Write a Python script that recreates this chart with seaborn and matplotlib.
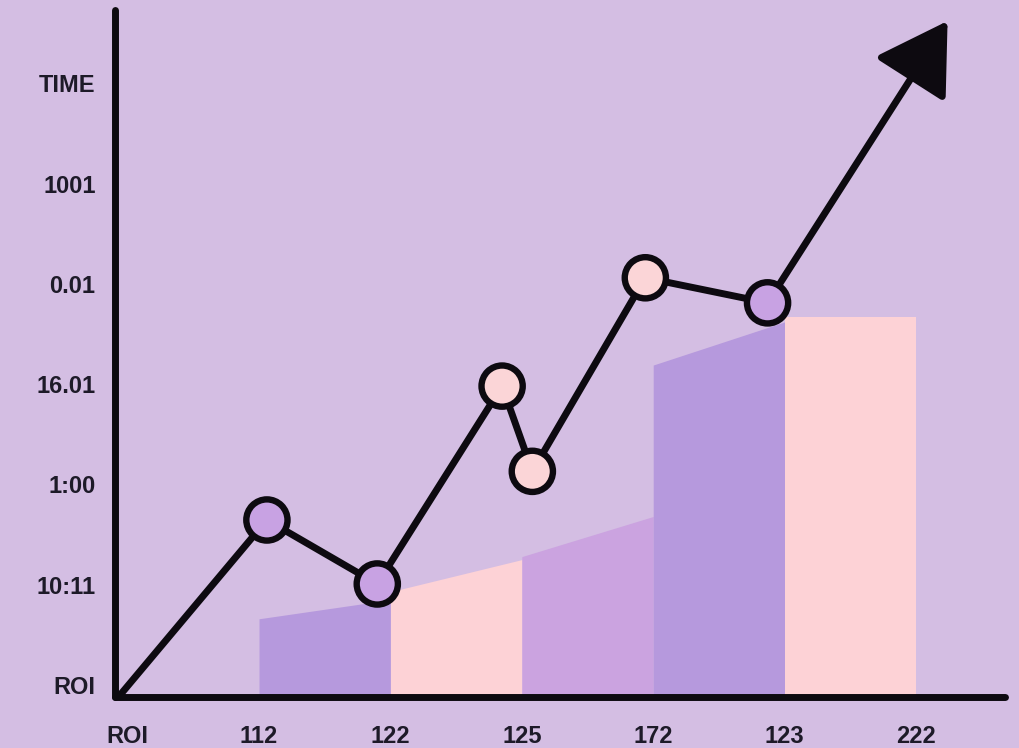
import matplotlib
matplotlib.use("Agg")
import matplotlib.pyplot as plt
import pandas as pd
import seaborn as sns

# --- data -----------------------------------------------------------------
x_labels = ["ROI", "112", "122", "125", "172", "123", "222"]
x_label_pos = [0, 1, 2, 3, 4, 5, 6]
y_labels = ["ROI", "10:11", "1:00", "16.01", "0.01", "1001", "TIME"]
y_label_pos = [0, 1, 2, 3, 4, 5, 6]

line_x = [-0.07, 1.06, 1.90, 2.85, 3.08, 3.94, 4.87]
line_y = [-0.12, 1.645, 1.007, 2.98, 2.13, 4.06, 3.81]
marker_kind = [None, "purple", "purple", "pink", "pink", "pink", "purple"]
arrow_tip = (6.24, 6.62)

bar_left = [1, 2, 3, 4, 5]
bar_right = [2, 3, 4, 5, 6]
bar_top_left = [0.66, 0.93, 1.28, 3.19, 3.67]
bar_top_right = [0.85, 1.25, 1.68, 3.62, 3.67]
bar_kind = ["purple", "pink", "orchid", "purple", "pink"]

BG = "#d4bee3"
COLORS = {"purple": "#b699dd", "pink": "#fdd2d6", "orchid": "#cba3e0"}
MARKER = {"purple": "#c8a2e3", "pink": "#fbd5d7"}
INK = "#0d0a10"

sns.set_theme(style="white")
plt.rcParams["font.family"] = ["Liberation Sans", "DejaVu Sans"]

fig = plt.figure(figsize=(10.19, 7.48), dpi=100, facecolor=BG)
ax = fig.add_axes([115 / 1019, 51 / 748, 890 / 1019, 687 / 748])
ax.set_facecolor(BG)
ymin = -0.12
ax.set_xlim(-0.096, 6.677)
ax.set_ylim(ymin, 6.73)

# slanted-top bars
for l, r, tl, tr, k in zip(bar_left, bar_right, bar_top_left, bar_top_right, bar_kind):
    ax.fill_between([l, r], [tl, tr], ymin, color=COLORS[k], lw=0, zorder=1)

# line + markers
df = pd.DataFrame({"x": line_x, "y": line_y, "kind": marker_kind})
sns.lineplot(data=df, x="x", y="y", sort=False, color=INK, lw=5,
             ax=ax, zorder=3, solid_capstyle="round", solid_joinstyle="round")
pts = df.dropna()
sns.scatterplot(data=pts, x="x", y="y", hue="kind", palette=MARKER, s=880,
                edgecolor=INK, linewidth=4.6, legend=False, ax=ax, zorder=4)

# arrow to the top right
ax.annotate("", xy=arrow_tip, xytext=(line_x[-1], line_y[-1]),
            arrowprops=dict(arrowstyle="-|>,head_length=4.3,head_width=2.6",
                            mutation_scale=10, color=INK, lw=5, shrinkA=0, shrinkB=0,
                            capstyle="round", joinstyle="round"),
            zorder=3, annotation_clip=False)

# axes
for side in ["top", "right"]:
    ax.spines[side].set_visible(False)
for side in ["left", "bottom"]:
    ax.spines[side].set_linewidth(5)
    ax.spines[side].set_color(INK)
    ax.spines[side].set_capstyle("round")

ax.set_xticks(x_label_pos, x_labels)
ax.set_yticks(y_label_pos, y_labels)
ax.tick_params(axis="both", length=0, colors="#1d1a28", labelsize=17)
ax.tick_params(axis="y", pad=14)
ax.tick_params(axis="x", pad=20)
for t in ax.get_xticklabels() + ax.get_yticklabels():
    t.set_fontweight("bold")
ax.set_xlabel("")
ax.set_ylabel("")

fig.savefig("out.png", dpi=100, facecolor=BG)
